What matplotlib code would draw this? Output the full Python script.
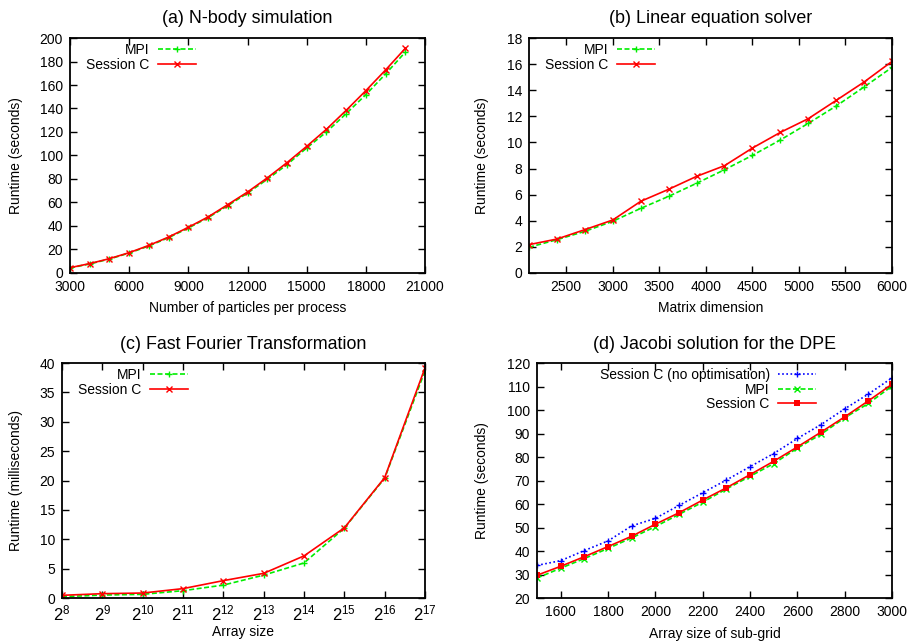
import matplotlib
matplotlib.use("Agg")
import matplotlib.pyplot as plt
import numpy as np

plt.rcParams['font.family'] = ['Liberation Sans', 'DejaVu Sans']
plt.rcParams['mathtext.fontset'] = 'custom'
plt.rcParams['mathtext.rm'] = 'Liberation Sans'
plt.rcParams['mathtext.it'] = 'Liberation Sans'
plt.rcParams['mathtext.default'] = 'regular'

# (a) N-body simulation
nbody_x = [3000, 4000, 5000, 6000, 7000, 8000, 9000, 10000, 11000, 12000,
           13000, 14000, 15000, 16000, 17000, 18000, 19000, 20000]
nbody_mpi = [4.3, 7.7, 11.9, 17.0, 23.0, 30.1, 38.3, 47.1, 57.3, 68.0,
             79.7, 92.2, 106.4, 120.0, 135.6, 151.8, 169.4, 188.0]
nbody_sc = [4.5, 8.0, 12.2, 17.3, 23.5, 30.6, 38.9, 47.7, 58.2, 68.9,
            80.9, 93.9, 107.8, 122.3, 138.4, 155.2, 172.8, 191.2]

# (b) Linear equation solver
lin_x = [2100, 2400, 2700, 3000, 3300, 3600, 3900, 4200, 4500, 4800,
         5100, 5400, 5700, 6000]
lin_mpi = [1.97, 2.55, 3.19, 3.96, 4.95, 5.87, 6.87, 7.91, 9.01, 10.19,
           11.46, 12.79, 14.25, 15.75]
lin_sc = [2.17, 2.60, 3.32, 4.06, 5.49, 6.41, 7.40, 8.22, 9.57, 10.77,
          11.82, 13.22, 14.63, 16.21]

# (c) Fast Fourier Transformation (array size = 2^k)
fft_exp = [8, 9, 10, 11, 12, 13, 14, 15, 16, 17]
fft_mpi = [0.23, 0.50, 0.63, 1.25, 2.20, 3.90, 5.97, 11.9, 20.4, 38.7]
fft_sc = [0.46, 0.74, 0.85, 1.60, 2.96, 4.20, 7.17, 11.95, 20.5, 39.2]
fft_ticklabels = ['$2^{%d}$' % e for e in fft_exp]

# (d) Jacobi solution for the DPE
jac_x = [1500, 1600, 1700, 1800, 1900, 2000, 2100, 2200, 2300, 2400,
         2500, 2600, 2700, 2800, 2900, 3000]
jac_noopt = [33.9, 35.9, 40.2, 44.3, 50.7, 53.9, 59.4, 64.8, 70.2, 75.9,
             81.5, 87.9, 93.8, 100.5, 106.8, 113.7]
jac_mpi = [28.5, 32.7, 36.8, 41.1, 45.6, 50.4, 55.6, 60.8, 66.4, 71.8,
           77.2, 83.8, 89.7, 96.7, 102.8, 110.2]
jac_sc = [29.7, 33.5, 37.6, 41.9, 46.3, 51.4, 56.3, 61.7, 66.9, 72.5,
          78.2, 84.3, 90.6, 97.1, 103.9, 111.0]

RED = '#ff0000'
GREEN = '#00ee00'
BLUE = '#0000ff'
FS = 10
TFS = 12.9

fig = plt.figure(figsize=(9.18, 6.42), dpi=100)
axA = fig.add_axes([0.0763, 0.5748, 0.3867, 0.366])
axB = fig.add_axes([0.5763, 0.5748, 0.3954, 0.366])
axC = fig.add_axes([0.0675, 0.0685, 0.3955, 0.366])
axD = fig.add_axes([0.585, 0.0685, 0.3867, 0.366])


def style(ax):
    for s in ax.spines.values():
        s.set_linewidth(1.3)
    ax.tick_params(direction='in', top=True, right=True, length=5, width=1,
                   labelsize=FS, pad=5)


def legend(ax, right):
    ax.legend(loc='upper right', bbox_to_anchor=(right, 1.0), frameon=False,
              markerfirst=False, fontsize=FS, handlelength=2.75,
              handletextpad=0.6, labelspacing=0.05, borderaxespad=0.0,
              borderpad=0.35)


# (a)
ax = axA
ax.plot(nbody_x, nbody_mpi, color=GREEN, ls=(0, (3, 1.5)), lw=1.2,
        marker='+', ms=5, mew=1, label='MPI')
ax.plot(nbody_x, nbody_sc, color=RED, ls='-', lw=1.2,
        marker='x', ms=4, mew=1, label='Session C')
ax.set_xlim(3000, 21000)
ax.set_ylim(0, 200)
ax.set_xticks(np.arange(3000, 21001, 3000))
ax.set_yticks(np.arange(0, 201, 20))
ax.set_xlabel('Number of particles per process', fontsize=FS, labelpad=5)
ax.set_ylabel('Runtime (seconds)', fontsize=FS, labelpad=12)
ax.set_title('(a) N-body simulation', fontsize=TFS, pad=11)
style(ax)
legend(ax, 0.369)

# (b)
ax = axB
ax.plot(lin_x, lin_mpi, color=GREEN, ls=(0, (3, 1.5)), lw=1.2,
        marker='+', ms=5, mew=1, label='MPI')
ax.plot(lin_x, lin_sc, color=RED, ls='-', lw=1.2,
        marker='x', ms=4, mew=1, label='Session C')
ax.set_xlim(2100, 6000)
ax.set_ylim(0, 18)
ax.set_xticks(np.arange(2500, 6001, 500))
ax.set_yticks(np.arange(0, 19, 2))
ax.set_xlabel('Matrix dimension', fontsize=FS, labelpad=5)
ax.set_ylabel('Runtime (seconds)', fontsize=FS, labelpad=13)
ax.set_title('(b) Linear equation solver', fontsize=TFS, pad=11)
style(ax)
legend(ax, 0.361)

# (c)
ax = axC
ax.plot(fft_exp, fft_mpi, color=GREEN, ls=(0, (3, 1.5)), lw=1.2,
        marker='+', ms=5, mew=1, label='MPI')
ax.plot(fft_exp, fft_sc, color=RED, ls='-', lw=1.2,
        marker='x', ms=4, mew=1, label='Session C')
ax.set_xlim(8, 17)
ax.set_ylim(0, 40)
ax.set_xticks(fft_exp)
ax.set_xticklabels(fft_ticklabels)
ax.set_yticks(np.arange(0, 41, 5))
ax.set_xlabel('Array size', fontsize=FS, labelpad=1)
ax.set_ylabel('Runtime (milliseconds)', fontsize=FS, labelpad=12)
ax.set_title('(c) Fast Fourier Transformation', fontsize=TFS, pad=10)
style(ax)
ax.tick_params(axis='x', labelsize=12, pad=4)
legend(ax, 0.361)

# (d)
ax = axD
ax.plot(jac_x, jac_noopt, color=BLUE, ls=(0, (1, 1.5)), lw=1.2,
        marker='+', ms=5, mew=1, label='Session C (no optimisation)')
ax.plot(jac_x, jac_mpi, color=GREEN, ls=(0, (3, 1.5)), lw=1.2,
        marker='x', ms=4, mew=1, label='MPI')
ax.plot(jac_x, jac_sc, color=RED, ls='-', lw=1.2,
        marker='s', ms=4, mew=0, label='Session C')
ax.set_xlim(1500, 3000)
ax.set_ylim(20, 120)
ax.set_xticks(np.arange(1600, 3001, 200))
ax.set_xticks(np.arange(1500, 3001, 100), minor=True)
ax.set_yticks(np.arange(20, 121, 10))
ax.set_xlabel('Array size of sub-grid', fontsize=FS, labelpad=6)
ax.set_ylabel('Runtime (seconds)', fontsize=FS, labelpad=13)
ax.set_title('(d) Jacobi solution for the DPE', fontsize=TFS, pad=10)
style(ax)
ax.tick_params(axis='x', which='minor', length=0)
legend(ax, 0.8)

fig.savefig('out.png', dpi=100)
